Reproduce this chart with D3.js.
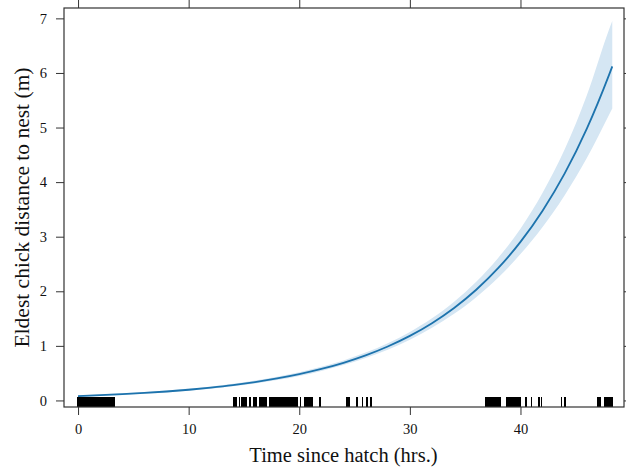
<!DOCTYPE html>
<html>
<head>
<meta charset="utf-8">
<script src="https://cdn.jsdelivr.net/npm/d3@7"></script>
<style>
  body { margin: 0; background: #fff; }
  .chart svg { display: block; }
  text { font-family: "Liberation Serif", "DejaVu Serif", serif; fill: #111; }
</style>
</head>
<body>
<div class="chart"></div>
<script>
// fitted curve (hours -> metres)
var hours = [0, 2, 4, 6, 8, 10, 12, 14, 16, 18, 20, 22, 24, 26, 28, 30, 32, 34, 36, 38, 40, 42, 44, 46, 48, 48.3];
var fitted = [0.080, 0.096, 0.115, 0.137, 0.164, 0.196, 0.235, 0.281, 0.337, 0.403, 0.482, 0.577, 0.690, 0.826, 0.989, 1.183, 1.416, 1.695, 2.028, 2.427, 2.905, 3.477, 4.16, 4.98, 5.96, 6.12];
var upper = [0.093, 0.110, 0.131, 0.154, 0.183, 0.217, 0.257, 0.306, 0.365, 0.434, 0.517, 0.616, 0.733, 0.877, 1.050, 1.256, 1.504, 1.809, 2.175, 2.616, 3.147, 3.804, 4.60, 5.59, 6.79, 6.95];
var lower = [0.069, 0.083, 0.101, 0.122, 0.147, 0.177, 0.215, 0.258, 0.311, 0.374, 0.449, 0.541, 0.650, 0.778, 0.931, 1.114, 1.334, 1.588, 1.891, 2.252, 2.682, 3.178, 3.76, 4.44, 5.23, 5.35];

// observed times for the rug
var rugTimes = [
  0, 0.1, 0.2, 0.3, 0.4, 0.5, 0.6, 0.7, 0.8, 0.9, 1.0, 1.1, 1.2, 1.3, 1.4, 1.5, 1.6,
  1.7, 1.8, 1.9, 2.0, 2.1, 2.2, 2.3, 2.4, 2.5, 2.6, 2.7, 2.8, 2.9, 3.0, 3.1, 3.2, 3.3,
  14.1, 14.2, 14.3, 14.6, 14.8, 14.9, 15.0, 15.1, 15.2, 15.5, 15.6, 15.9, 16.0, 16.1,
  16.4, 16.5, 16.6, 16.7, 16.8, 16.9, 17.0, 17.3, 17.4, 17.5, 17.6, 17.7, 17.8, 17.9,
  18.0, 18.1, 18.2, 18.3, 18.4, 18.5, 18.6, 18.7, 18.8, 18.9, 19.0, 19.1, 19.2, 19.3,
  19.4, 19.5, 19.6, 19.8, 20.1, 20.5, 20.6, 20.7, 20.9, 21.0, 21.1, 21.2, 21.9,
  24.3, 24.5, 25.2, 25.7, 26.1, 26.5,
  36.9, 37.0, 37.1, 37.2, 37.3, 37.4, 37.5, 37.6, 37.7, 37.8, 37.9, 38.0, 38.1, 38.2,
  38.8, 38.9, 39.0, 39.1, 39.2, 39.3, 39.4, 39.5, 39.6, 39.7, 39.8, 39.9, 40.0,
  40.5, 41.0, 41.7, 41.9, 43.7, 44.0, 47.0, 47.2,
  47.6, 47.7, 47.8, 47.9, 48.0, 48.1, 48.2, 48.3
];

var xTicks = [0, 10, 20, 30, 40];
var yTicks = [0, 1, 2, 3, 4, 5, 6, 7];

var xLabel = "Time since hatch (hrs.)";
var yLabel = "Eldest chick distance to nest (m)";

drawChart();

function drawChart() {
    var margins = { top: 8, left: 64, right: 2, bottom: 63 };
    var width = 626 - margins.left - margins.right;
    var height = 470 - margins.top - margins.bottom;

    var curve = hours.map(function (h, i) {
        return { x: h, y: fitted[i], lo: lower[i], hi: upper[i] };
    });

    var svg = d3.select('.chart')
        .append('svg')
        .attr('width', 626)
        .attr('height', 470)
        .append('g')
        .attr('transform', 'translate(' + margins.left + ',' + margins.top + ')');

    var xScale = d3.scaleLinear()
        .domain([-1.27, 49.36])
        .range([0, width]);

    var yScale = d3.scaleLinear()
        .domain([-0.12, 7.19])
        .range([height, 0]);

    // confidence band
    var band = d3.area()
        .x(function (d) { return xScale(d.x); })
        .y0(function (d) { return yScale(d.lo); })
        .y1(function (d) { return yScale(d.hi); })
        .curve(d3.curveMonotoneX);

    svg.append('path')
        .datum(curve)
        .attr('d', band)
        .attr('fill', '#d5e6f3');

    var line = d3.line()
        .x(function (d) { return xScale(d.x); })
        .y(function (d) { return yScale(d.y); })
        .curve(d3.curveMonotoneX);

    svg.append('path')
        .datum(curve)
        .attr('d', line)
        .attr('fill', 'none')
        .attr('stroke', '#1d73ad')
        .attr('stroke-width', 1.8);

    // rug
    svg.append('g')
        .selectAll('line')
        .data(rugTimes)
        .enter()
        .append('line')
        .attr('x1', function (d) { return xScale(d); })
        .attr('x2', function (d) { return xScale(d); })
        .attr('y1', height - 10)
        .attr('y2', height)
        .attr('stroke', '#000')
        .attr('stroke-width', 1.6)
        .attr('shape-rendering', 'crispEdges');

    // axes: labelled bottom/left, bare ticks top/right
    var xAxis = d3.axisBottom(xScale).tickValues(xTicks).tickSize(8).tickPadding(9);
    var yAxis = d3.axisLeft(yScale).tickValues(yTicks).tickSize(8).tickPadding(9);
    var xTop = d3.axisTop(xScale).tickValues(xTicks).tickSize(8).tickFormat('');
    var yRight = d3.axisRight(yScale).tickValues(yTicks).tickSize(7).tickFormat('');

    var gx = svg.append('g')
        .attr('transform', 'translate(0,' + height + ')')
        .call(xAxis);
    var gy = svg.append('g').call(yAxis);
    var gt = svg.append('g').call(xTop);
    var gr = svg.append('g').attr('transform', 'translate(' + width + ',0)').call(yRight);

    [gx, gy, gt, gr].forEach(function (g) {
        g.select('.domain').remove();
        g.selectAll('line').attr('stroke', '#333');
        g.selectAll('text')
            .style('font-family', '"Liberation Serif", serif')
            .style('font-size', '14.5px')
            .attr('fill', '#111');
    });

    // panel box
    svg.append('rect')
        .attr('x', 0)
        .attr('y', 0)
        .attr('width', width)
        .attr('height', height)
        .attr('fill', 'none')
        .attr('stroke', '#333')
        .attr('stroke-width', 1.2);

    svg.append('text')
        .attr('x', xScale(24))
        .attr('y', height + 55)
        .attr('text-anchor', 'middle')
        .style('font-size', '20.5px')
        .text(xLabel);

    svg.append('text')
        .attr('transform', 'translate(' + (-35) + ',' + (height / 2) + ') rotate(-90)')
        .attr('text-anchor', 'middle')
        .style('font-size', '21.5px')
        .text(yLabel);
}
</script>
</body>
</html>
